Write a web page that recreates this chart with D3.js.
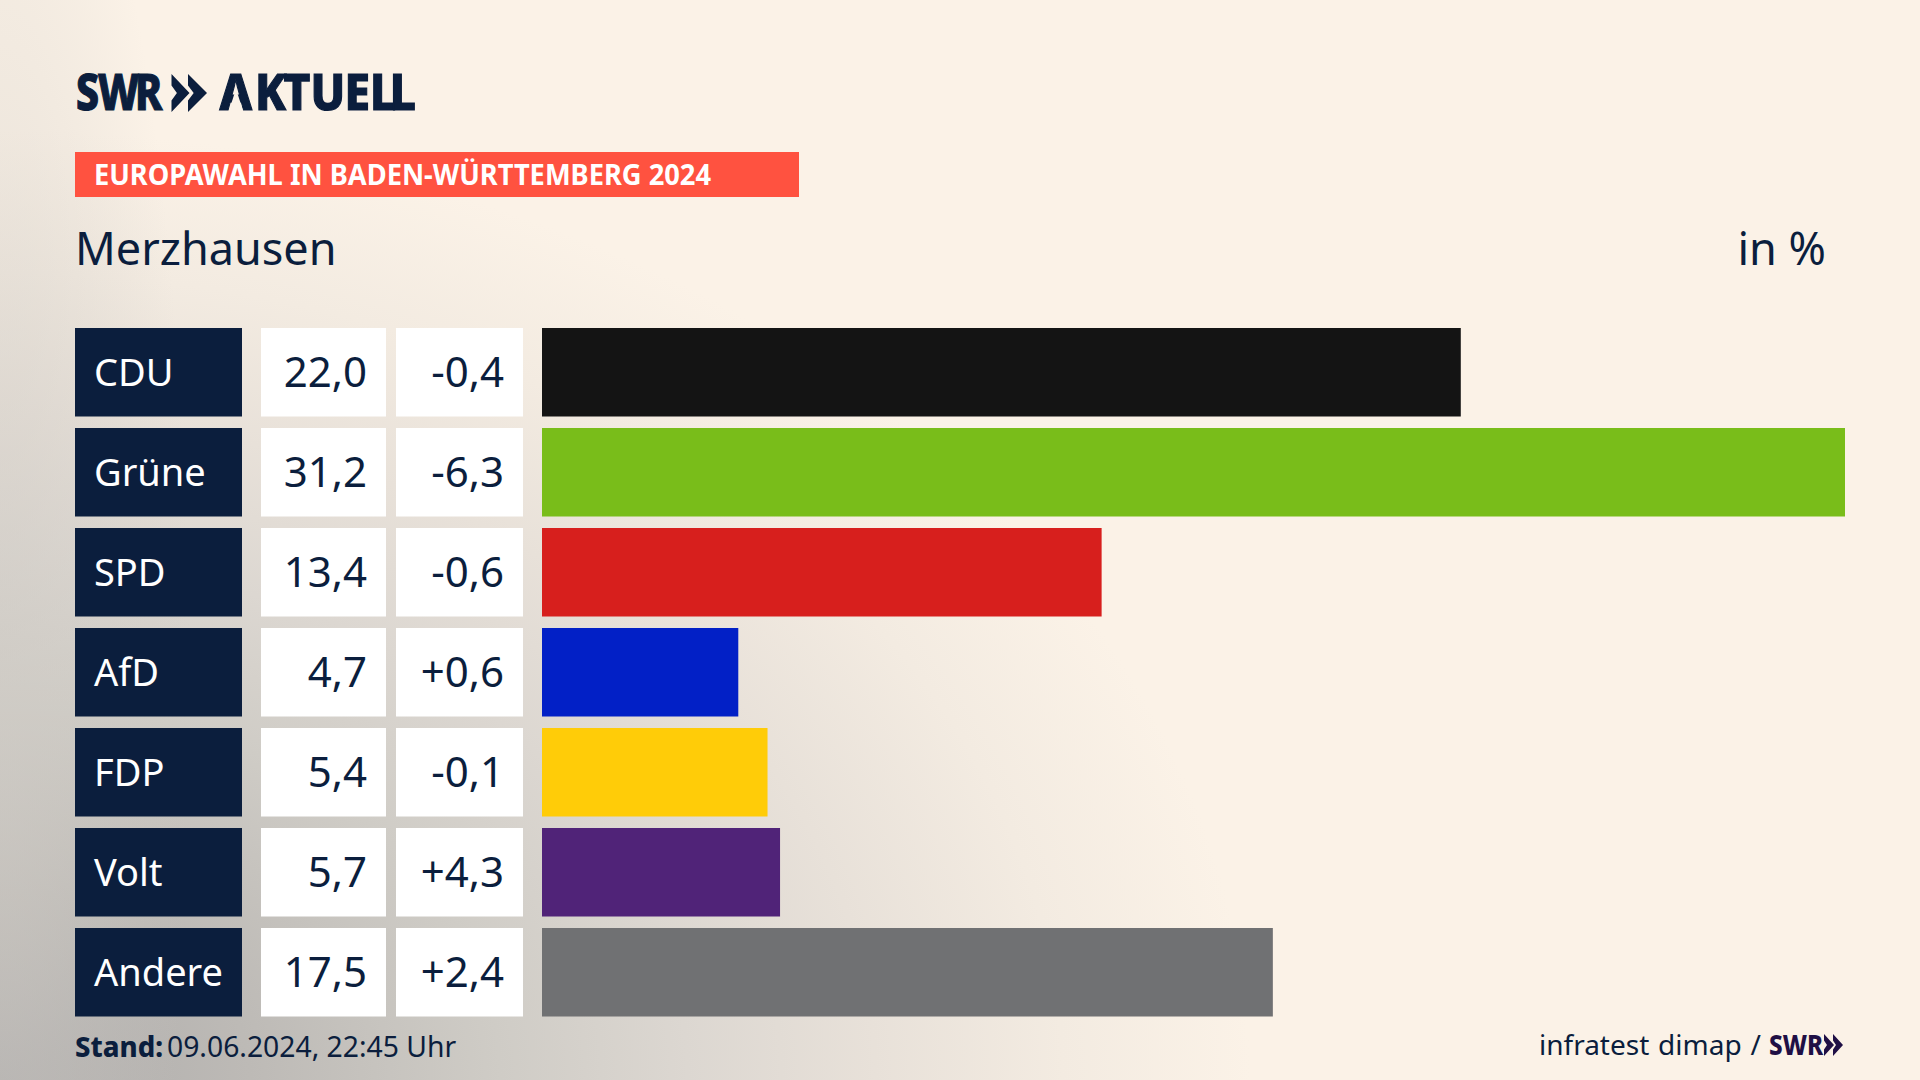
<!DOCTYPE html>
<html><head><meta charset="utf-8">
<script src="https://cdn.jsdelivr.net/npm/d3@7"></script>
<style>html,body{margin:0;padding:0;background:#fbf2e7;overflow:hidden}svg{display:block}text{font-family:"Noto Sans",sans-serif}</style>
</head><body><svg id="c" width="1920" height="1080"></svg>
<script>
const parties = ["CDU","Grüne","SPD","AfD","FDP","Volt","Andere"];
const shares = [22.0,31.2,13.4,4.7,5.4,5.7,17.5];
const shareLabels = ["22,0","31,2","13,4","4,7","5,4","5,7","17,5"];
const changeLabels = ["-0,4","-6,3","-0,6","+0,6","-0,1","+4,3","+2,4"];
const colors = ["#141414","#79bd1a","#d71f1d","#0220c6","#ffcc08","#502378","#707173"];
const navy = "#0b1e3d";

const svg = d3.select("#c");
const defs = svg.append("defs");
const g1 = defs.append("radialGradient").attr("id","bg").attr("gradientUnits","userSpaceOnUse")
  .attr("cx",0).attr("cy",0).attr("r",1)
  .attr("gradientTransform","translate(0,1080) scale(1250,950)");
[[0,"#adabaa"],[.2,"#bdbab6"],[.4,"#cfccc6"],[.55,"#dcd7d1"],[.7,"#e8e1d9"],[.85,"#f3ebe1"],[1,"#fbf2e7"]].forEach(s=>
  g1.append("stop").attr("offset",s[0]).attr("stop-color",s[1]));
svg.append("rect").attr("width",1920).attr("height",1080).attr("fill","url(#bg)");
const g2 = defs.append("radialGradient").attr("id","bgl").attr("gradientUnits","userSpaceOnUse")
  .attr("cx",0).attr("cy",0).attr("r",1)
  .attr("gradientTransform","translate(0,700) scale(190,1000)");
g2.append("stop").attr("offset",0).attr("stop-color","#cfcbc5").attr("stop-opacity",.6);
g2.append("stop").attr("offset",1).attr("stop-color","#cfcbc5").attr("stop-opacity",0);
svg.append("rect").attr("width",200).attr("height",1080).attr("fill","url(#bgl)");

const x = d3.scaleLinear().domain([0,31.2]).range([542,1845]);
const y = d3.scaleBand().domain(parties).range([328,1016.5]).paddingInner(0.115).paddingOuter(0).align(0);
const rows = svg.append("g").selectAll("g").data(parties).join("g");
rows.append("rect").attr("x",75).attr("y",d=>y(d)).attr("width",167).attr("height",y.bandwidth()).attr("fill",navy);
rows.append("rect").attr("x",261).attr("y",d=>y(d)).attr("width",125).attr("height",y.bandwidth()).attr("fill","#fff");
rows.append("rect").attr("x",396).attr("y",d=>y(d)).attr("width",127).attr("height",y.bandwidth()).attr("fill","#fff");
rows.append("rect").attr("x",x(0)).attr("y",d=>y(d)).attr("width",(d,i)=>x(shares[i])-x(0)).attr("height",y.bandwidth()).attr("fill",(d,i)=>colors[i]);
rows.append("text").attr("x",94).attr("y",d=>y(d)+58).attr("font-size",38).attr("fill","#fff").text(d=>d);
rows.append("text").attr("x",367).attr("y",d=>y(d)+59).attr("font-size",42).attr("text-anchor","end").attr("fill",navy).text((d,i)=>shareLabels[i]);
rows.append("text").attr("x",504).attr("y",d=>y(d)+59).attr("font-size",42).attr("text-anchor","end").attr("fill",navy).text((d,i)=>changeLabels[i]);

// header logo
const m = defs.append("mask").attr("id","noBar").attr("maskUnits","userSpaceOnUse")
  .attr("x",200).attr("y",60).attr("width",240).attr("height",70);
m.append("rect").attr("x",200).attr("y",60).attr("width",240).attr("height",70).attr("fill","#fff");
m.append("path").attr("d","M236 89L228.5 112L243.5 112Z").attr("fill","#000");
const logo = svg.append("g").attr("fill",navy).attr("stroke",navy).attr("stroke-width",1.2);
logo.append("text").attr("transform","translate(76,110) scale(.82,1)").attr("x","0 26.8 72").attr("font-size",50).attr("font-weight",800).text("SWR");
logo.append("g").attr("mask","url(#noBar)").append("text").attr("transform","translate(219.5,110) scale(.92,1)").attr("x","0 38.6 69.6 98.9 136 163.5 185").attr("font-size",50).attr("font-weight",800).text("AKTUELL");
const chevron = (g,x0,yt,h,w)=>g.append("path").attr("stroke","none").attr("d",`M${x0} ${yt}L${x0+w} ${yt+h/2}L${x0} ${yt+h}L${x0} ${yt+h*.7}L${x0+w*.3} ${yt+h/2}L${x0} ${yt+h*.3}Z`);
chevron(logo,171.5,74,38,18); chevron(logo,188,74,38,19);

svg.append("rect").attr("x",75).attr("y",152).attr("width",724).attr("height",45).attr("fill","#ff5240");
svg.append("text").attr("x",94).attr("y",185).attr("font-size",28).attr("font-weight",700).attr("fill","#fff").attr("textLength",617).attr("lengthAdjust","spacingAndGlyphs").text("EUROPAWAHL IN BADEN-WÜRTTEMBERG 2024");
svg.append("text").attr("x",75).attr("y",265).attr("font-size",45).attr("fill",navy).text("Merzhausen");
svg.append("text").attr("x",1826).attr("y",265).attr("font-size",45).attr("text-anchor","end").attr("fill",navy).text("in %");

// footer
const st = svg.append("text").attr("x",75).attr("y",1057).attr("fill",navy);
st.append("tspan").attr("font-weight",800).attr("font-size",27.5).text("Stand:");
st.append("tspan").attr("dx",4).attr("font-size",28.3).text("09.06.2024, 22:45 Uhr");
svg.append("text").attr("x",1539).attr("y",1055).attr("font-size",28).attr("word-spacing",1.5).attr("fill",navy).text("infratest dimap /");
const fl = svg.append("g").attr("fill","#1f0f45");
fl.append("text").attr("x",1769).attr("y",1055).attr("font-size",28).attr("font-weight",800).attr("textLength",54).attr("lengthAdjust","spacingAndGlyphs").text("SWR");
chevron(fl,1824,1034,22,10); chevron(fl,1833,1034,22,10);
</script></body></html>
